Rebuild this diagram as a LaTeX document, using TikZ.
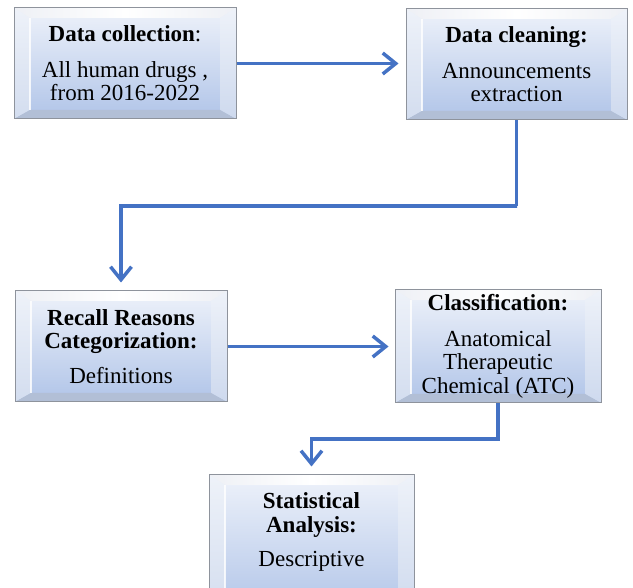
\documentclass[tikz,border=0pt]{standalone}
\usepackage{fontspec}
\setmainfont{Liberation Serif}
\usetikzlibrary{arrows.meta,calc}
\definecolor{arrowblue}{HTML}{4472C4}
\definecolor{faceTop}{HTML}{EEF2FA}
\definecolor{faceBot}{HTML}{B0C4E8}
\definecolor{bevTopC}{HTML}{EEF0F5}
\definecolor{bevSideA}{HTML}{EEF2F9}
\definecolor{bevSideB}{HTML}{D3DDEF}
\definecolor{bevBotC}{HTML}{B2BFD6}
\definecolor{boxline}{HTML}{8E939C}
\tikzset{
  bevbox/.style={rectangle, draw=boxline, line width=1pt,
    top color=faceTop, bottom color=faceBot, align=center,
    font=\fontsize{23}{23.5}\selectfont, inner sep=0pt,
    path picture={
      \coordinate (pNW) at (path picture bounding box.north west);
      \coordinate (pNE) at (path picture bounding box.north east);
      \coordinate (pSW) at (path picture bounding box.south west);
      \coordinate (pSE) at (path picture bounding box.south east);
      \shade[left color=bevTopC, right color=bevTopC, middle color=white]
        (pNW) -- (pNE) -- ($(pNE)+(-16pt,-10pt)$) -- ($(pNW)+(16pt,-10pt)$) -- cycle;
      \shade[top color=bevSideA, bottom color=bevSideB]
        (pNW) -- ($(pNW)+(16pt,-10pt)$) -- ($(pSW)+(16pt,9pt)$) -- (pSW) -- cycle;
      \shade[top color=bevSideA, bottom color=bevSideB!85!faceBot]
        (pNE) -- ($(pNE)+(-16pt,-10pt)$) -- ($(pSE)+(-16pt,9pt)$) -- (pSE) -- cycle;
      \fill[bevBotC]
        (pSW) -- ($(pSW)+(16pt,9pt)$) -- ($(pSE)+(-16pt,9pt)$) -- (pSE) -- cycle;
      \draw[white, line width=1.5pt, opacity=0.8]
        ($(pNW)+(16pt,-10pt)$) -- ($(pSW)+(16pt,9pt)$);
    }},
  boxtext/.style={align=center, font=\fontsize{23}{23.5}\selectfont, inner sep=0pt},
  flow/.style={draw=arrowblue, line width=3.5pt, line join=miter,
    -{Straight Barb[length=13pt,width=21pt]}}
}
\begin{document}
\begin{tikzpicture}[x=1pt,y=-1pt]
\useasboundingbox (0,0) rectangle (633,588);
\clip (0,0) rectangle (633,588);
\node[bevbox, minimum width=222pt, minimum height=111pt] (b1) at (125,63.5)
  {\textbf{Data collection}:\\[12pt] All human drugs ,\\ from 2016-2022};
\node[bevbox, minimum width=221pt, minimum height=111pt] (b2) at (516.5,64.5)
  {\textbf{Data cleaning:}\\[12pt] Announcements\\ extraction};
\node[bevbox, minimum width=212pt, minimum height=111pt] (b3) at (121,346.5)
  {\textbf{Recall Reasons}\\ \textbf{Categorization:}\\[11pt] Definitions};
\node[bevbox, minimum width=206pt, minimum height=113pt] (b4) at (498,346.5)
  {\textbf{Classification:}\\[12pt] Anatomical\\ Therapeutic\\ Chemical (ATC)};
\node[bevbox, minimum width=205pt, minimum height=140pt] (b5) at (311.5,545) {};
\node[boxtext] (t5) at (311.5,532)
  {\textbf{Statistical}\\ \textbf{Analysis:}\\[11pt] Descriptive};
\coordinate (k1) at (517,206);
\coordinate (k2) at (498,439);
\draw[flow, shorten >=7pt] (b1.east) -- (b2.west |- b1.east);
\draw[flow, shorten >=8pt] (b2.south) |- (k1) -| (b3.north);
\draw[flow, shorten >=6pt] (b3.east) -- (b4.west |- b3.east);
\draw[flow, shorten >=8pt] (b4.south) |- (k2) -| (b5.north);
\end{tikzpicture}
\end{document}
